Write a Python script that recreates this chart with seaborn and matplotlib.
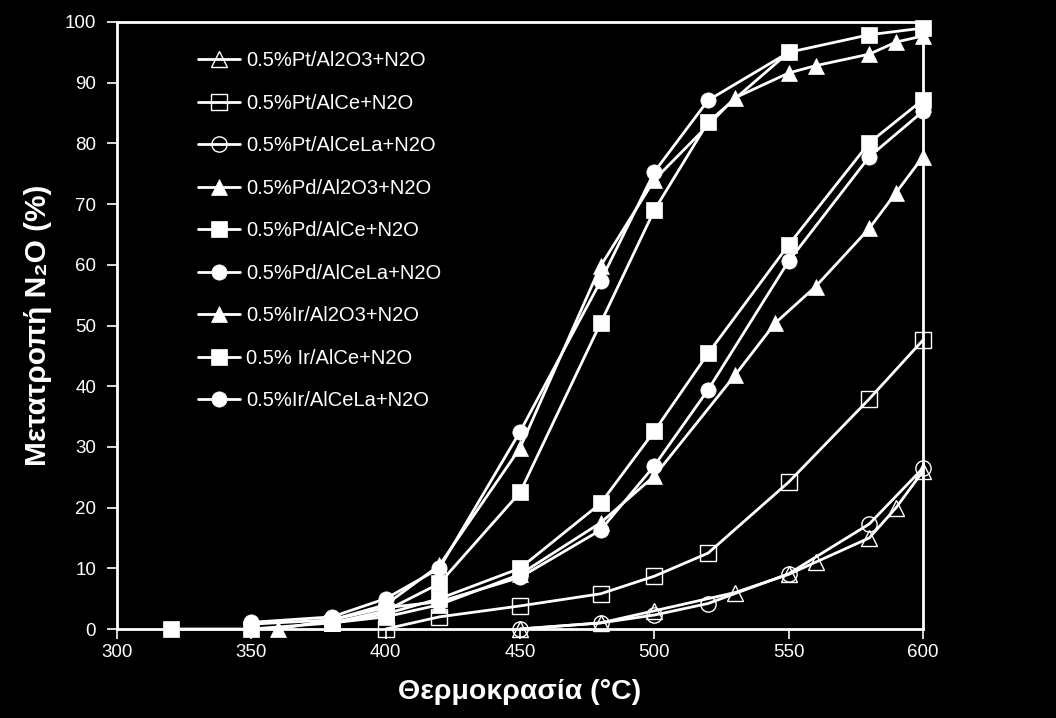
import matplotlib
matplotlib.use("Agg")
import matplotlib.pyplot as plt
import seaborn as sns
import numpy as np

# ---- data ----
pt_al2o3_T = [450, 480, 500, 530, 550, 560, 580, 590, 600]
pt_al2o3_y = [0, 1, 3, 6, 9, 11, 15, 20, 26]

pt_alce_T = [400, 420, 450, 480, 500, 520, 550, 580, 600]
pt_alce_y = [0, 2, 3.8, 5.8, 8.7, 12.5, 24.2, 37.9, 47.6]

pt_alcela_T = [450, 480, 500, 520, 550, 580, 600]
pt_alcela_y = [0, 1, 2.3, 4.2, 9.1, 17.3, 26.5]

pd_al2o3_T = [380, 400, 420, 450, 480, 500, 530, 545, 560, 580, 590, 600]
pd_al2o3_y = [1, 2, 4, 9, 17.5, 25.2, 41.8, 50.4, 56.4, 66, 71.9, 77.8]

pd_alce_T = [380, 400, 420, 450, 480, 500, 520, 550, 580, 600]
pd_alce_y = [1, 2.5, 5, 10, 20.7, 32.6, 45.4, 63.3, 80.1, 87.2]

pd_alcela_T = [350, 380, 400, 420, 450, 480, 500, 520, 550, 580, 600]
pd_alcela_y = [0.8, 1.5, 3.5, 4.5, 8.5, 16.3, 26.9, 39.4, 60.6, 77.8, 85.3]

ir_al2o3_T = [360, 380, 400, 420, 450, 480, 500, 530, 550, 560, 580, 590, 600]
ir_al2o3_y = [0, 1.5, 4, 10.5, 29.8, 59.8, 74, 87.5, 91.6, 92.8, 94.7, 96.7, 97.7]

ir_alce_T = [320, 350, 380, 400, 420, 450, 480, 500, 520, 550, 580, 600]
ir_alce_y = [0, 0, 1, 3, 7.5, 22.5, 50.4, 69, 83.5, 95, 97.9, 99]

ir_alcela_T = [350, 380, 400, 420, 450, 480, 500, 520, 550]
ir_alcela_y = [1.1, 2, 5, 10, 32.5, 57.3, 75.3, 87.1, 95]

labels = ["0.5%Pt/Al2O3+N2O", "0.5%Pt/AlCe+N2O", "0.5%Pt/AlCeLa+N2O",
          "0.5%Pd/Al2O3+N2O", "0.5%Pd/AlCe+N2O", "0.5%Pd/AlCeLa+N2O",
          "0.5%Ir/Al2O3+N2O", "0.5% Ir/AlCe+N2O", "0.5%Ir/AlCeLa+N2O"]

x_ticks = [300, 350, 400, 450, 500, 550, 600]
y_ticks = [0, 10, 20, 30, 40, 50, 60, 70, 80, 90, 100]

series = [
    (pt_al2o3_T, pt_al2o3_y, "^", False),
    (pt_alce_T, pt_alce_y, "s", False),
    (pt_alcela_T, pt_alcela_y, "o", False),
    (pd_al2o3_T, pd_al2o3_y, "^", True),
    (pd_alce_T, pd_alce_y, "s", True),
    (pd_alcela_T, pd_alcela_y, "o", True),
    (ir_al2o3_T, ir_al2o3_y, "^", True),
    (ir_alce_T, ir_alce_y, "s", True),
    (ir_alcela_T, ir_alcela_y, "o", True),
]

sns.set_theme(style="ticks")
plt.rcParams["font.family"] = ["Liberation Sans", "DejaVu Sans"]

fig = plt.figure(figsize=(10.56, 7.18), dpi=100, facecolor="black")
ax = fig.add_axes([117 / 1056, 1 - 629 / 718, (923 - 117) / 1056, (629 - 22) / 718])
ax.set_facecolor("black")

for (T, y, m, filled), lab in zip(series, labels):
    ms = 11.5 if m != "o" else 11
    if filled:
        kw = dict(markerfacecolor="white", markeredgecolor="white", markeredgewidth=0.5)
    else:
        kw = dict(markerfacecolor="none", markeredgecolor="white", markeredgewidth=1.0)
    sns.lineplot(x=T, y=y, ax=ax, color="white", marker=m, markersize=ms,
                 linewidth=2, label=lab, clip_on=False, **kw)

ax.set_xlim(300, 600)
ax.set_ylim(0, 100)
ax.set_xticks(x_ticks)
ax.set_yticks(y_ticks)
ax.tick_params(colors="white", labelcolor="white", labelsize=13.5, width=1.2,
               length=7, direction="out")
ax.tick_params(axis="x", pad=4)
ax.tick_params(axis="y", pad=8)
for s in ["left", "bottom", "right", "top"]:
    ax.spines[s].set_visible(True)
    ax.spines[s].set_color("white")
    ax.spines[s].set_linewidth(2)

ax.set_xlabel("Θερμοκρασία (°C)", color="white", fontsize=20.5, fontweight="bold", labelpad=13)
ax.set_ylabel("Μετατροπή N₂O (%)", color="white", fontsize=21.5, fontweight="bold", labelpad=9)

leg = ax.legend(loc="upper left", bbox_to_anchor=(198 / 1056, 1 - 51 / 718),
                bbox_transform=fig.transFigure, frameon=False, fontsize=14.5,
                labelspacing=1.17, handlelength=2.1, handletextpad=0.3,
                borderpad=0, borderaxespad=0)
for t in leg.get_texts():
    t.set_color("white")

fig.savefig("out.png", dpi=100, facecolor="black")
